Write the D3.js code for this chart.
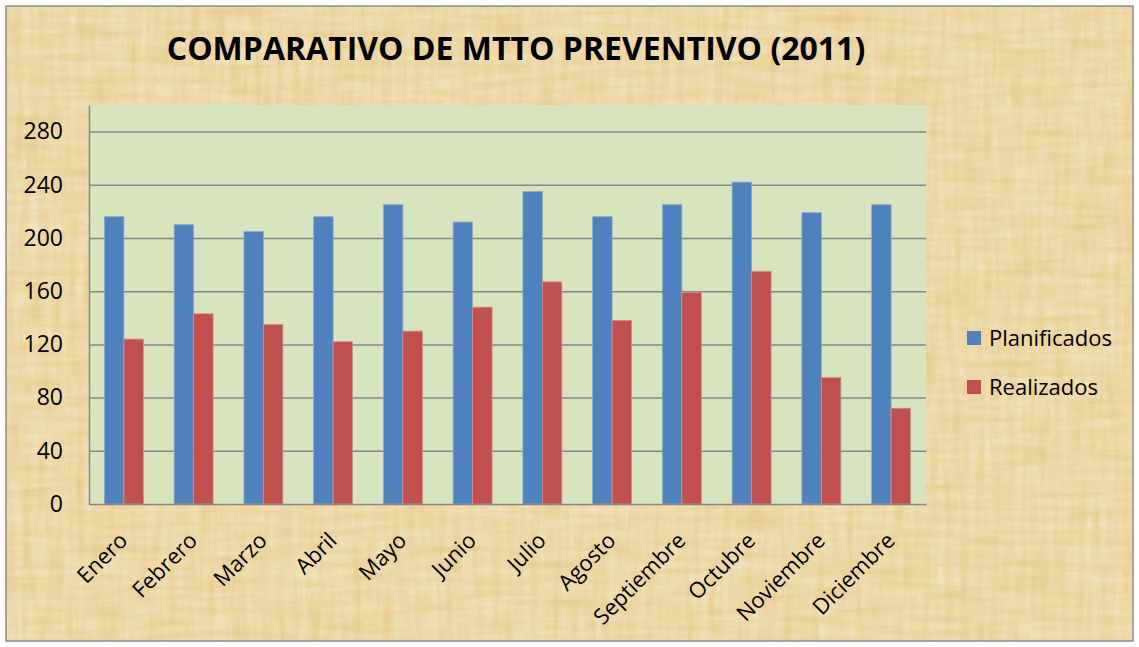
<!DOCTYPE html>
<html>
<head>
<meta charset="utf-8">
<script src="https://cdn.jsdelivr.net/npm/d3@7"></script>
<style>
  body { margin: 0; background: #fff; }
  svg { display: block; font-family: "Open Sans", "Noto Sans", sans-serif; }
</style>
</head>
<body>
<div id="chart"></div>
<script>
var meses = ["Enero", "Febrero", "Marzo", "Abril", "Mayo", "Junio", "Julio",
  "Agosto", "Septiembre", "Octubre", "Noviembre", "Diciembre"];
var planificados = [216, 210, 205, 216, 225, 212, 235, 216, 225, 242, 219, 225];
var realizados = [124, 143, 135, 122, 130, 148, 167, 138, 159, 175, 95, 72];
var series = ["Planificados", "Realizados"];
var yTicks = [0, 40, 80, 120, 160, 200, 240, 280];

var W = 1139, H = 647;
var plot = { left: 89, top: 105, right: 926, bottom: 504 };
var colors = { Planificados: "#4F81BD", Realizados: "#C0504D" };

var svg = d3.select("#chart").append("svg")
  .attr("width", W)
  .attr("height", H);

// parchment background
var defs = svg.append("defs");
var filt = defs.append("filter").attr("id", "paper")
  .attr("x", 0).attr("y", 0).attr("width", "100%").attr("height", "100%");
filt.append("feTurbulence")
  .attr("type", "fractalNoise")
  .attr("baseFrequency", "0.13 0.015")
  .attr("numOctaves", 3)
  .attr("seed", 4)
  .attr("result", "noiseV");
filt.append("feTurbulence")
  .attr("type", "fractalNoise")
  .attr("baseFrequency", "0.015 0.13")
  .attr("numOctaves", 3)
  .attr("seed", 9)
  .attr("result", "noiseH");
filt.append("feBlend").attr("in", "noiseV").attr("in2", "noiseH").attr("mode", "multiply").attr("result", "noise");
filt.append("feColorMatrix")
  .attr("in", "noise")
  .attr("type", "matrix")
  .attr("values", "0 0 0 0 1  0 0 0 0 0.96  0 0 0 0 0.82  1.6 0 0 0 -0.2")
  .attr("result", "tint");
filt.append("feComposite").attr("in", "tint").attr("in2", "SourceGraphic").attr("operator", "in");

svg.append("rect")
  .attr("x", 6).attr("y", 6)
  .attr("width", W - 12).attr("height", H - 12)
  .attr("fill", "#E6CB8E");
svg.append("rect")
  .attr("x", 6).attr("y", 6)
  .attr("width", W - 12).attr("height", H - 12)
  .attr("fill", "#000")
  .attr("opacity", 0.55)
  .attr("filter", "url(#paper)");
svg.append("rect")
  .attr("x", 6).attr("y", 6)
  .attr("width", W - 12).attr("height", H - 12)
  .attr("fill", "none")
  .attr("stroke", "#8c8c8c")
  .attr("stroke-width", 1.5);

// title
svg.append("text")
  .attr("x", 516)
  .attr("y", 60)
  .attr("text-anchor", "middle")
  .attr("font-size", "32px")
  .attr("font-weight", "bold")
  .attr("fill", "#000")
  .text("COMPARATIVO DE MTTO PREVENTIVO (2011)");

// scales
var x0 = d3.scaleBand()
  .domain(meses)
  .range([plot.left, plot.right])
  .paddingInner(0)
  .paddingOuter(0);

var x1 = d3.scaleBand()
  .domain(series)
  .range([0, x0.bandwidth()])
  .paddingOuter(0.79)
  .paddingInner(0);

var y = d3.scaleLinear()
  .domain([0, 300])
  .range([plot.bottom, plot.top]);

// plot area
svg.append("rect")
  .attr("x", plot.left)
  .attr("y", plot.top)
  .attr("width", plot.right - plot.left)
  .attr("height", plot.bottom - plot.top)
  .attr("fill", "#D7E4BD");

// gridlines
svg.append("g")
  .attr("class", "grid")
  .attr("transform", "translate(" + plot.left + ",0)")
  .call(d3.axisLeft(y).tickValues(yTicks.slice(1))
    .tickSize(-(plot.right - plot.left)).tickFormat(""))
  .call(function (g) {
    g.select(".domain").remove();
    g.selectAll("line").attr("stroke", "#868686").attr("stroke-width", 1.5);
  });

// bars
var data = meses.map(function (m, i) {
  return { mes: m, Planificados: planificados[i], Realizados: realizados[i] };
});

svg.append("g")
  .selectAll("g")
  .data(data)
  .enter().append("g")
  .attr("transform", function (d) { return "translate(" + x0(d.mes) + ",0)"; })
  .selectAll("rect")
  .data(function (d) {
    return series.map(function (k) { return { key: k, value: d[k] }; });
  })
  .enter().append("rect")
  .attr("x", function (d) { return x1(d.key); })
  .attr("y", function (d) { return y(d.value); })
  .attr("width", x1.bandwidth())
  .attr("height", function (d) { return y(0) - y(d.value); })
  .attr("fill", function (d) { return colors[d.key]; })
  .attr("stroke", function (d) { return d.key === "Planificados" ? "#8DA9D0" : "#D58C8A"; })
  .attr("stroke-width", 0.8);

// y axis
var yAxis = svg.append("g")
  .attr("transform", "translate(" + plot.left + ",0)")
  .call(d3.axisLeft(y).tickValues(yTicks).tickSize(0).tickPadding(26));
yAxis.select(".domain").attr("stroke", "#868686").attr("stroke-width", 1.5);
yAxis.selectAll("text")
  .attr("font-size", "23px")
  .attr("fill", "#000")
  .attr("font-family", "Open Sans, sans-serif");

// x axis
var xAxis = svg.append("g")
  .attr("transform", "translate(0," + plot.bottom + ")")
  .call(d3.axisBottom(x0).tickSize(0).tickPadding(0));
xAxis.select(".domain").attr("stroke", "#868686").attr("stroke-width", 1.5);
xAxis.selectAll("text")
  .attr("font-size", "22px")
  .attr("fill", "#000")
  .attr("font-family", "Open Sans, sans-serif")
  .attr("text-anchor", "end")
  .attr("dy", "0")
  .attr("transform", "translate(5,38) rotate(-45)");

// legend
var legend = svg.append("g")
  .attr("transform", "translate(967,338)");
var item = legend.selectAll("g")
  .data(series)
  .enter().append("g")
  .attr("transform", function (d, i) { return "translate(0," + (i * 49) + ")"; });
item.append("rect")
  .attr("x", 0).attr("y", -7)
  .attr("width", 14).attr("height", 14)
  .attr("fill", function (d) { return colors[d]; });
item.append("text")
  .attr("x", 22)
  .attr("y", 0)
  .attr("dy", "0.35em")
  .attr("font-size", "22px")
  .attr("fill", "#000")
  .text(function (d) { return d; });
</script>
</body>
</html>
